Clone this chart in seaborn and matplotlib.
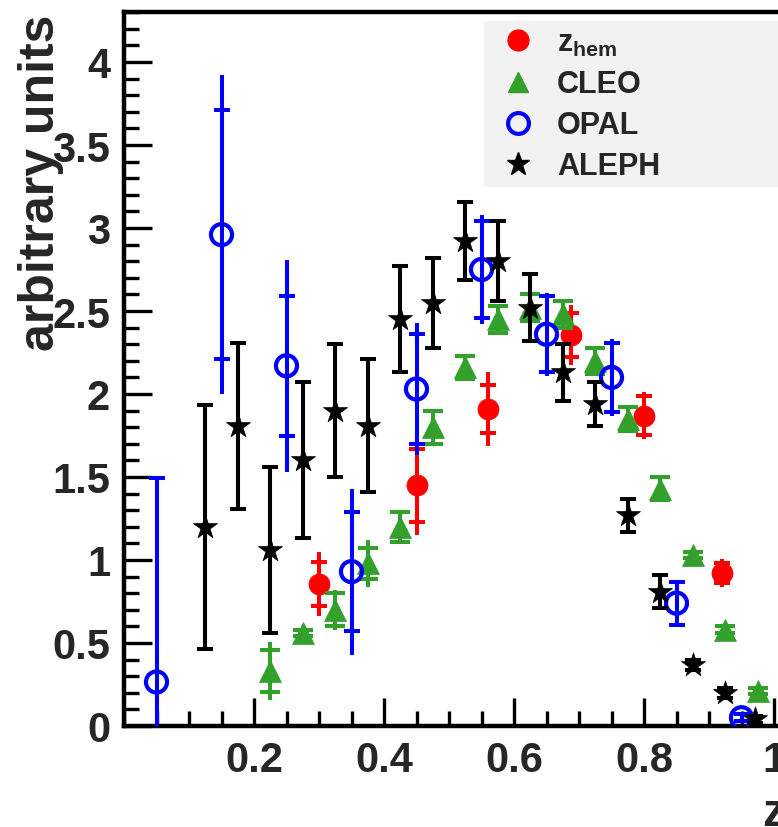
import numpy as np
import pandas as pd
import matplotlib
matplotlib.use("Agg")
import matplotlib.pyplot as plt
import seaborn as sns
from matplotlib.patches import Rectangle
from matplotlib.ticker import MultipleLocator

# ---------------- data ----------------
zhem_x = [0.30, 0.45, 0.56, 0.687, 0.80, 0.92]
zhem_y = [0.855, 1.45, 1.91, 2.355, 1.87, 0.92]
zhem_stat = [0.135, 0.22, 0.145, 0.13, 0.115, 0.06]
zhem_tot = [0.195, 0.30, 0.225, 0.18, 0.14, 0.085]

cleo_x = [0.225, 0.275, 0.325, 0.375, 0.425, 0.475, 0.525, 0.575, 0.625, 0.675,
          0.725, 0.775, 0.825, 0.875, 0.925, 0.975]
cleo_y = [0.33, 0.56, 0.70, 0.98, 1.20, 1.80, 2.16, 2.45, 2.52, 2.48,
          2.20, 1.85, 1.43, 1.03, 0.58, 0.21]
cleo_stat = [0.125, 0.02, 0.10, 0.095, 0.09, 0.10, 0.07, 0.08, 0.08, 0.08,
             0.08, 0.07, 0.07, 0.02, 0.02, 0.02]
cleo_tot = [0.175, 0.02, 0.12, 0.14, 0.09, 0.10, 0.07, 0.08, 0.08, 0.08,
            0.08, 0.07, 0.07, 0.02, 0.02, 0.02]

opal_x = [0.05, 0.15, 0.25, 0.35, 0.45, 0.55, 0.65, 0.75, 0.85, 0.95]
opal_y = [0.265, 2.96, 2.17, 0.93, 2.03, 2.75, 2.36, 2.10, 0.74, 0.05]
opal_stat = [1.23, 0.75, 0.42, 0.36, 0.33, 0.29, 0.23, 0.21, 0.13, 0.02]
opal_tot = [1.23, 0.96, 0.64, 0.50, 0.40, 0.33, 0.25, 0.23, 0.13, 0.02]

aleph_x = [0.125, 0.175, 0.225, 0.275, 0.325, 0.375, 0.425, 0.475, 0.525, 0.575,
           0.625, 0.675, 0.725, 0.775, 0.825, 0.875, 0.925, 0.97]
aleph_y = [1.20, 1.81, 1.06, 1.60, 1.90, 1.81, 2.45, 2.55, 2.92, 2.80,
           2.52, 2.13, 1.94, 1.27, 0.81, 0.37, 0.20, 0.04]
aleph_err = [0.735, 0.50, 0.50, 0.47, 0.40, 0.40, 0.32, 0.27, 0.235, 0.24,
             0.20, 0.17, 0.13, 0.10, 0.10, 0.03, 0.03, 0.02]

RED = "#ff0000"
GREEN = "#33a02c"
BLUE = "#0000ff"
BLACK = "#000000"

# ---------------- style ----------------
sns.set_theme(style="ticks")
plt.rcParams["font.family"] = ["Liberation Sans", "DejaVu Sans"]
plt.rcParams["font.weight"] = "bold"
plt.rcParams["mathtext.fontset"] = "custom"
plt.rcParams["mathtext.rm"] = "Liberation Sans:bold"
plt.rcParams["mathtext.bf"] = "Liberation Sans:bold"
plt.rcParams["mathtext.it"] = "Liberation Sans:bold"

fig = plt.figure(figsize=(7.78, 8.28), dpi=100)
W, H = 778, 828
x0_px, y0_px = 124, 727
px_per_x, px_per_y = 650, 166
xmax, ymax = 1.02, 4.3
ax = fig.add_axes([x0_px / W, (H - y0_px) / H,
                   xmax * px_per_x / W, ymax * px_per_y / H])

elw = 2.9
cap = 6


def draw(xs, ys, stat, tot, color, marker, size, z, hollow=False, capsize=cap):
    ax.errorbar(xs, ys, yerr=tot, fmt="none", ecolor=color, elinewidth=elw,
                capsize=0, zorder=z)
    ax.errorbar(xs, ys, yerr=stat, fmt="none", ecolor=color, elinewidth=elw,
                capsize=capsize, capthick=elw, zorder=z)
    df = pd.DataFrame({"x": xs, "y": ys})
    if hollow:
        sns.scatterplot(data=df, x="x", y="y", ax=ax, marker=marker, s=size,
                        facecolors="none", edgecolor=color, linewidth=3.0,
                        zorder=z + 0.5, legend=False)
    else:
        sns.scatterplot(data=df, x="x", y="y", ax=ax, marker=marker, s=size,
                        color=color, edgecolor=color, linewidth=0.5,
                        zorder=z + 0.5, legend=False)


draw(zhem_x, zhem_y, zhem_stat, zhem_tot, RED, "o", 230, 3)
draw(cleo_x, cleo_y, cleo_stat, cleo_tot, GREEN, "^", 250, 4, capsize=7)
draw(opal_x, opal_y, opal_stat, opal_tot, BLUE, "o", 230, 5, hollow=True)
draw(aleph_x, aleph_y, aleph_err, aleph_err, BLACK, "*", 330, 6)

ax.set_xlim(0, xmax)
ax.set_ylim(0, ymax)
ax.xaxis.set_major_locator(MultipleLocator(0.2))
ax.xaxis.set_minor_locator(MultipleLocator(0.05))
ax.yaxis.set_major_locator(MultipleLocator(0.5))
ax.yaxis.set_minor_locator(MultipleLocator(0.1))
ax.set_xticks([0.2, 0.4, 0.6, 0.8, 1.0])
ax.set_xticklabels(["0.2", "0.4", "0.6", "0.8", "1"])
ax.set_yticks([0, 0.5, 1, 1.5, 2, 2.5, 3, 3.5, 4])
ax.set_yticklabels(["0", "0.5", "1", "1.5", "2", "2.5", "3", "3.5", "4"])
ax.tick_params(which="major", direction="in", length=20, width=2.4,
               labelsize=30, pad=10, color="black", top=False, right=False)
ax.tick_params(which="minor", direction="in", length=11, width=2.4,
               color="black", top=False, right=False)
for lbl in ax.get_xticklabels() + ax.get_yticklabels():
    lbl.set_fontweight("bold")
for side in ["left", "bottom", "top"]:
    ax.spines[side].set_linewidth(3.2)
    ax.spines[side].set_color("black")
ax.spines["right"].set_visible(False)

ax.set_xlabel("")
ax.set_ylabel("arbitrary units", fontsize=36, fontweight="bold", loc="top")
ax.yaxis.set_label_coords(-0.09, 0.998)

fig.text(762 / W, 1 - 814 / H, "z", fontsize=33, fontweight="bold",
         ha="left", va="center")

# legend background
fig.patches.append(Rectangle((484 / W, 1 - 188 / H), 300 / W, 166 / H,
                             transform=fig.transFigure, facecolor="#f2f2f2",
                             edgecolor="none", zorder=1))

handles = [
    plt.Line2D([], [], linestyle="none", marker="o", markersize=15,
               color=RED, markeredgecolor=RED),
    plt.Line2D([], [], linestyle="none", marker="^", markersize=15,
               color=GREEN, markeredgecolor=GREEN),
    plt.Line2D([], [], linestyle="none", marker="o", markersize=15,
               markerfacecolor="none", markeredgecolor=BLUE, markeredgewidth=3),
    plt.Line2D([], [], linestyle="none", marker="*", markersize=17,
               color=BLACK, markeredgecolor=BLACK),
]
labels = [r"$\mathrm{z}_{\mathrm{hem}}$", "CLEO", "OPAL", "ALEPH"]
leg = fig.legend(handles, labels, loc="upper left",
                 bbox_to_anchor=(490 / W, 1 - 20 / H), frameon=False,
                 prop={"family": "Liberation Sans", "weight": "bold", "size": 22},
                 handlelength=1.2, handletextpad=0.7, labelspacing=0.36,
                 borderaxespad=0, borderpad=0.3)
leg.set_zorder(10)

fig.savefig("out.png", dpi=100)
